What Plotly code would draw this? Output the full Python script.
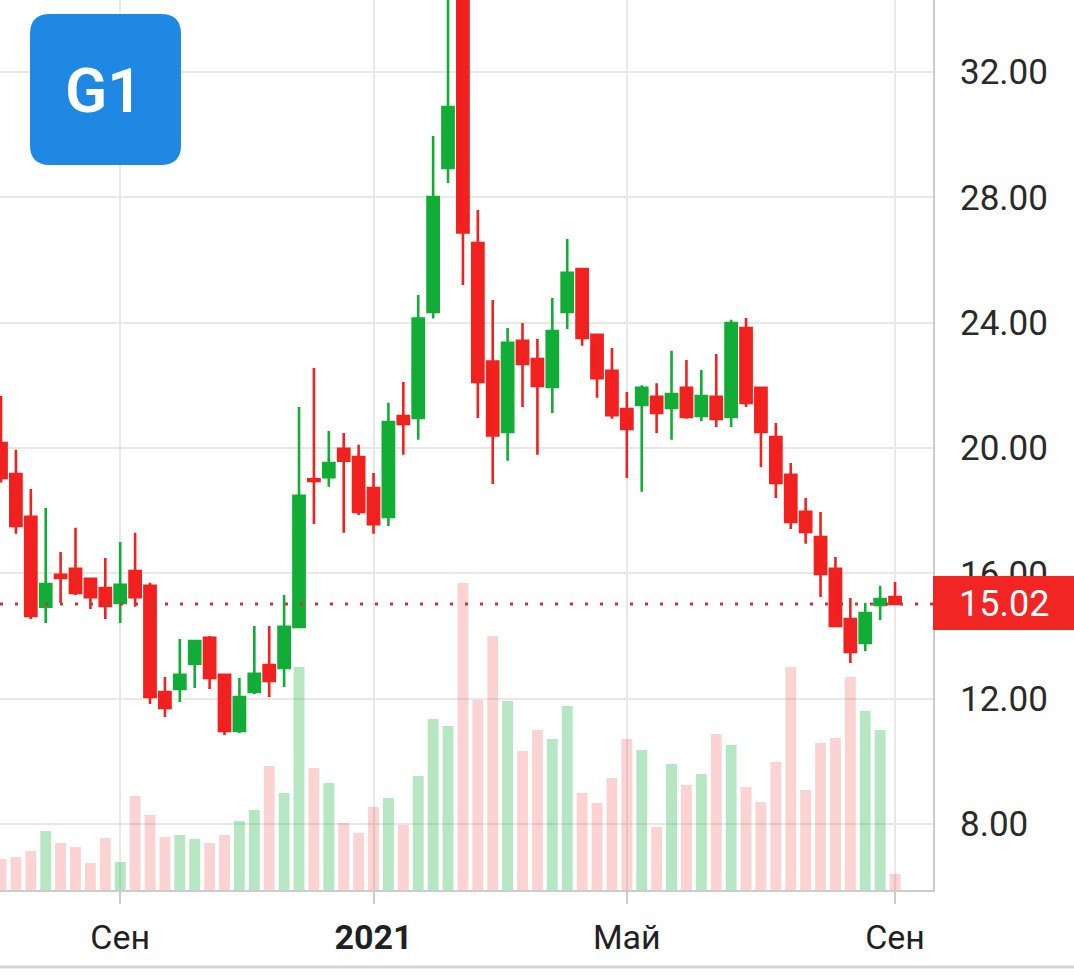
import pandas as pd
import plotly.graph_objects as go

# Weekly candles (Mondays), Jul 13 2020 .. Sep 6 2021
dates = pd.date_range("2020-07-13", periods=61, freq="7D")

opens = [20.16, 19.17, 17.80, 14.93, 15.95, 16.14, 15.82, 15.53, 15.05, 16.07,
         15.60, 12.21, 12.31, 13.11, 13.94, 12.76, 10.97, 12.21, 13.07, 12.98,
         14.29, 19.00, 19.07, 19.97, 19.71, 18.72, 17.80, 21.02, 20.96, 24.34,
         28.94, 35.50, 26.54, 22.76, 20.51, 23.42, 22.84, 21.95, 24.34, 25.71,
         23.61, 22.46, 21.24, 21.37, 21.63, 21.28, 21.92, 21.02, 21.63, 20.99,
         23.83, 21.92, 20.35, 19.14, 17.96, 17.16, 16.14, 14.54, 13.78, 14.99,
         15.24]
highs = [21.66, 19.94, 18.69, 18.08, 16.68, 17.45, 15.85, 16.49, 17.00, 17.29,
         15.70, 12.69, 13.90, 13.88, 14.00, 12.80, 12.66, 14.32, 14.32, 15.31,
         21.31, 22.55, 20.54, 20.48, 20.10, 19.20, 21.44, 22.11, 24.88, 29.96,
         35.80, 36.20, 27.60, 24.72, 23.83, 23.99, 23.48, 24.79, 26.67, 25.75,
         23.61, 23.19, 21.79, 22.00, 22.07, 23.10, 22.81, 22.49, 23.00, 24.09,
         24.15, 21.92, 20.80, 19.52, 18.40, 17.96, 16.52, 15.21, 15.05, 15.60,
         15.72]
lows = [18.90, 17.26, 14.54, 14.41, 15.05, 15.31, 14.86, 14.54, 14.41, 14.93,
        11.83, 11.41, 11.89, 12.34, 12.31, 10.84, 10.90, 12.15, 12.05, 12.37,
        14.26, 17.57, 18.76, 17.29, 17.86, 17.26, 17.51, 19.78, 20.26, 24.13,
        28.46, 25.20, 20.96, 18.85, 19.59, 21.31, 19.78, 21.12, 23.80, 23.26,
        21.60, 20.93, 19.04, 18.60, 20.48, 20.26, 20.93, 20.86, 20.67, 20.67,
        21.31, 19.39, 18.40, 17.41, 16.94, 15.24, 14.29, 13.14, 13.52, 14.51,
        15.02]
closes = [19.04, 17.51, 14.64, 15.66, 15.85, 15.37, 15.24, 14.96, 15.63, 15.24,
          12.05, 11.70, 12.76, 13.84, 12.66, 10.97, 12.05, 12.79, 12.56, 14.29,
          18.47, 18.95, 19.52, 19.59, 17.96, 17.57, 20.83, 20.77, 24.13, 28.01,
          30.88, 26.88, 22.11, 20.40, 23.36, 22.68, 21.98, 23.73, 25.59, 23.51,
          22.23, 21.05, 20.61, 21.92, 21.12, 21.72, 20.99, 21.66, 20.93, 23.99,
          21.44, 20.51, 18.88, 17.64, 17.32, 15.98, 14.32, 13.49, 14.73, 15.18,
          15.02]
volumes = [310, 330, 390, 590, 470, 430, 270, 520, 280, 940,
           750, 530, 550, 510, 470, 550, 690, 800, 1240, 970,
           2230, 1220, 1070, 670, 570, 830, 920, 650, 1140, 1710,
           1640, 3070, 1900, 2540, 1890, 1390, 1600, 1510, 1840, 970,
           870, 1120, 1510, 1400, 630, 1260, 1050, 1160, 1560, 1450,
           1030, 880, 1280, 2230, 1000, 1470, 1520, 2130, 1790, 1600,
           160]

last_price = 15.02
tick_dates = ["2020-09-07", "2021-01-04", "2021-05-03", "2021-09-06"]
tick_text = ["Сен", "<b>2021</b>", "Май", "Сен"]
price_ticks = [8, 12, 16, 20, 24, 28, 32]

RED = "#f0211f"
GREEN = "#12ad37"
vol_colors = ["rgba(18,173,55,0.30)" if c >= o else "rgba(242,34,34,0.20)"
              for o, c in zip(opens, closes)]

W, H = 1074, 978
PW, PH = 933, 890  # plot area in px

fig = go.Figure()
fig.add_trace(go.Bar(x=dates, y=volumes, marker=dict(color=vol_colors, line=dict(width=0)),
                     yaxis="y", hoverinfo="skip", showlegend=False))
fig.add_trace(go.Candlestick(
    x=dates, open=opens, high=highs, low=lows, close=closes, yaxis="y2",
    increasing=dict(line=dict(color=GREEN, width=2.6), fillcolor=GREEN),
    decreasing=dict(line=dict(color=RED, width=2.6), fillcolor=RED),
    whiskerwidth=0, showlegend=False, hoverinfo="skip"))


def px_x(p):
    return p / PW


def px_y(p):
    return 1 - p / PH


# rounded logo box path (paper coords)
x0, x1, y0, y1, r = 30, 181, 14, 165, 20
pts = (f"M {px_x(x0+r)},{px_y(y0)} L {px_x(x1-r)},{px_y(y0)} "
       f"Q {px_x(x1)},{px_y(y0)} {px_x(x1)},{px_y(y0+r)} "
       f"L {px_x(x1)},{px_y(y1-r)} Q {px_x(x1)},{px_y(y1)} {px_x(x1-r)},{px_y(y1)} "
       f"L {px_x(x0+r)},{px_y(y1)} Q {px_x(x0)},{px_y(y1)} {px_x(x0)},{px_y(y1-r)} "
       f"L {px_x(x0)},{px_y(y0+r)} Q {px_x(x0)},{px_y(y0)} {px_x(x0+r)},{px_y(y0)} Z")

shapes = [
    dict(type="line", xref="paper", yref="y2", x0=0, x1=1, y0=last_price, y1=last_price,
         line=dict(color="#c0393b", width=3, dash="3px,12px"), layer="above"),
    dict(type="rect", xref="paper", yref="y2", x0=1.0, x1=W / PW, y0=14.19, y1=15.91,
         fillcolor="#f22525", line=dict(width=0), layer="above"),
    dict(type="path", xref="paper", yref="paper", path=pts, fillcolor="#1f88e3",
         line=dict(width=0), layer="above"),
    dict(type="line", xref="paper", yref="paper", x0=0, x1=W / PW,
         y0=px_y(967), y1=px_y(967), line=dict(color="#d3d3d3", width=3)),
]

annotations = [
    dict(xref="paper", yref="y2", x=(PW + W) / 2 / PW, y=last_price, text="15.02",
         showarrow=False, font=dict(family="Roboto", size=36, color="white"),
         xanchor="center", yanchor="middle"),
    dict(xref="paper", yref="paper", x=px_x(104), y=px_y(90), text="G1",
         showarrow=False, font=dict(family="Roboto", size=62, color="white", weight=600),
         xanchor="center", yanchor="middle"),
]

fig.update_layout(
    width=W, height=H,
    margin=dict(l=0, r=W - PW, t=0, b=H - PH),
    paper_bgcolor="white", plot_bgcolor="white",
    showlegend=False, hovermode=False,
    boxgap=0.25, boxgroupgap=0,
    bargap=0.27,
    shapes=shapes, annotations=annotations,
    font=dict(family="Roboto", color="#222222"),
    xaxis=dict(
        type="date", range=["2020-07-12 12:43", "2021-09-23 20:00"],
        rangeslider=dict(visible=False),
        tickvals=tick_dates, ticktext=tick_text,
        showgrid=True, gridcolor="#e8e8e8", gridwidth=2,
        showline=True, linecolor="#cccccc", linewidth=2,
        ticks="outside", ticklen=12, tickcolor="#cccccc", tickwidth=2,
        tickfont=dict(family="Roboto", size=34, color="#1f1f24"),
        ticklabelstandoff=4,
        zeroline=False, fixedrange=True,
    ),
    yaxis=dict(range=[0, 8900], visible=False, showgrid=False, fixedrange=True),
    yaxis2=dict(
        overlaying="y", side="right", range=[5.89, 34.30],
        tickvals=price_ticks, tickformat=".2f",
        showgrid=True, gridcolor="#e8e8e8", gridwidth=2,
        showline=True, linecolor="#cccccc", linewidth=2,
        ticks="", ticklabelstandoff=18,
        tickfont=dict(family="Roboto", size=35, color="#2a2a2a"),
        zeroline=False, fixedrange=True,
    ),
)

fig.write_html("out.html", config={"displayModeBar": False})
